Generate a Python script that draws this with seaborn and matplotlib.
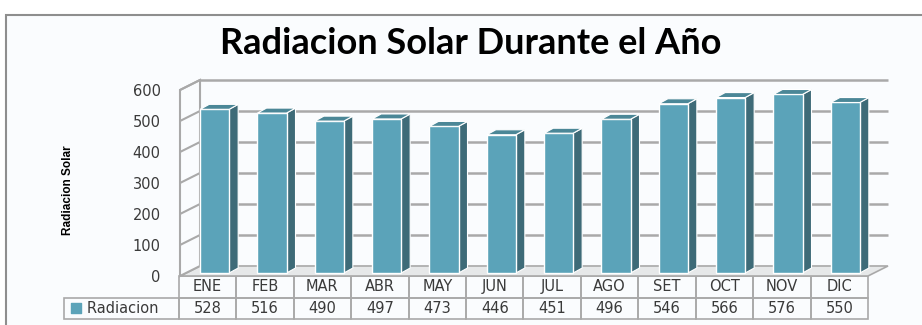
import matplotlib
matplotlib.use("Agg")
import matplotlib.pyplot as plt
import seaborn as sns
import pandas as pd
from matplotlib.patches import Polygon, Rectangle

months = ["ENE", "FEB", "MAR", "ABR", "MAY", "JUN", "JUL", "AGO", "SET", "OCT", "NOV", "DIC"]
radiacion = [528, 516, 490, 497, 473, 446, 451, 496, 546, 566, 576, 550]
series_name = "Radiacion"
y_ticks = [0, 100, 200, 300, 400, 500, 600]

title = "Radiacion Solar Durante el Año"
y_label = "Radiacion Solar"

FRONT = "#5BA3B9"
SIDE = "#3E6B78"
TOP = "#4B8797"
GRID = "#A9A9A9"
TEXT = "#3A3A3A"

sns.set_theme(style="white")
plt.rcParams["font.family"] = ["DejaVu Sans"]

W, H = 922, 325
fig = plt.figure(figsize=(W / 100, H / 100), dpi=100)
fig.patch.set_facecolor("white")

# chart frame, kept behind the axes
frame = Rectangle((6 / W, -0.05), 1.0, (H - 15) / H + 0.05,
                  transform=fig.transFigure, facecolor="#FAFCFE",
                  edgecolor="#8E8E8E", linewidth=1.5, zorder=-5)
fig.patches.append(frame)

ax = fig.add_axes([180 / W, (H - 276) / H, 688 / W, 186 / H], zorder=1)
ax.set_facecolor("none")

df = pd.DataFrame({"mes": months, "valor": radiacion})
n = len(months)
ax.set_xlim(-0.5, n - 0.5)
ax.set_ylim(0, 600)

# depth of the box in data units (about 20 px right, 10 px up)
DX = 0.349
DY = 32.3
x0, x1 = -0.5, n - 0.5

# floor
ax.add_patch(Polygon([(x0, 0), (x1, 0), (x1 + DX, DY), (x0 + DX, DY)],
                     closed=True, facecolor="#E6E8E9", edgecolor=GRID,
                     linewidth=1.2, clip_on=False, zorder=1))
# left wall
ax.add_patch(Polygon([(x0, 0), (x0, 600), (x0 + DX, 600 + DY), (x0 + DX, DY)],
                     closed=True, facecolor="#FAFCFE", edgecolor=GRID,
                     linewidth=1.5, clip_on=False, zorder=1))
for v in y_ticks[1:]:
    ax.plot([x0, x0 + DX], [v, v + DY], color=GRID, lw=1.5, clip_on=False, zorder=1.2)
    ax.plot([x0 + DX, x1 + DX], [v + DY, v + DY], color=GRID, lw=1.8,
            clip_on=False, zorder=1.2, solid_capstyle="butt")

# bars
sns.barplot(data=df, x="mes", y="valor", color=FRONT, saturation=1, width=0.506,
            edgecolor="white", linewidth=1.0, ax=ax, zorder=3)

bar_off_x, bar_off_y = 0.3 * DX, 0.3 * DY
bdx, bdy = 0.157, 16.0
for p in list(ax.patches):
    if not isinstance(p, Rectangle) or p.get_height() <= 0:
        continue
    p.set_x(p.get_x() + bar_off_x)
    p.set_y(bar_off_y)
    p.set_clip_on(False)
    l = p.get_x()
    r = l + p.get_width()
    b = p.get_y()
    t = b + p.get_height()
    ax.add_patch(Polygon([(r, b), (r + bdx, b + bdy), (r + bdx, t + bdy), (r, t)],
                         closed=True, facecolor=SIDE, edgecolor="white",
                         linewidth=0.8, clip_on=False, zorder=2.9))
    ax.add_patch(Polygon([(l, t), (r, t), (r + bdx, t + bdy), (l + bdx, t + bdy)],
                         closed=True, facecolor=TOP, edgecolor="white",
                         linewidth=0.8, clip_on=False, zorder=3.1))

ax.set_yticks(y_ticks)
ax.set_yticklabels([str(v) for v in y_ticks], fontsize=10.5, color=TEXT)
ax.tick_params(axis="y", length=0, pad=14)
ax.set_xticks([])
ax.set_xlabel("")
ax.set_ylabel("")
for s in ax.spines.values():
    s.set_visible(False)

# data table below the plot: the first column holds the legend entry
cell_text = [[""] + months, [series_name + "  "] + [str(v) for v in radiacion]]
tbl = ax.table(cellText=cell_text, cellLoc="center",
               colWidths=[2 / (n + 2)] + [1 / (n + 2)] * n,
               bbox=[(64 - 180) / 688, -(319 - 276) / 186, (868 - 64) / 688, 43 / 186])
tbl.auto_set_font_size(False)
tbl.set_fontsize(10.5)
for (r, c), cell in tbl.get_celld().items():
    cell.set_edgecolor(GRID)
    cell.set_linewidth(1.2)
    cell.set_facecolor("none")
    cell.get_text().set_color(TEXT)
    if r == 0 and c == 0:
        cell.set_visible(False)
    if r == 1 and c == 0:
        cell.get_text().set_horizontalalignment("right")
        cell._loc = "right"
ax.scatter([(76 - 180) / 688], [-(308 - 276) / 186], marker="s", s=42, color=FRONT,
           transform=ax.transAxes, clip_on=False, zorder=5)

fig.text(471 / W, (H - 44) / H, title, ha="center", va="center",
         fontsize=26, fontweight="bold", family=["Lato", "DejaVu Sans"], color="black")
fig.text(68 / W, (H - 190) / H, y_label, ha="center", va="center", rotation=90,
         fontsize=8.5, fontweight="bold",
         family=["Liberation Sans Narrow", "Liberation Sans", "DejaVu Sans"], color="black")

fig.savefig("out.png", dpi=100)
